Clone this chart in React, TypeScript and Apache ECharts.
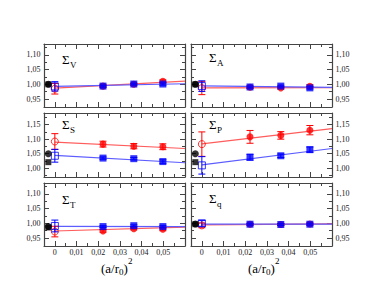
import React, { useEffect, useRef } from "react";
import * as echarts from "echarts";

// x positions
const X_LAT = [0.0222, 0.0364, 0.0498];
const X_EXT = 0;
const X_REF = -0.003;
const X_FIT = [0, 0.06];
const X_MAJOR = [0, 0.01, 0.02, 0.03, 0.04, 0.05];

// y ticks
const Y_LOW_RANGE = [0.923, 1.137];
const Y_LOW_MAJOR = [0.95, 1.0, 1.05, 1.1];
const Y_LOW_MINOR = [0.975, 1.025, 1.075, 1.125];
const Y_HIGH_RANGE = [0.97, 1.19];
const Y_HIGH_MAJOR = [1.0, 1.05, 1.1, 1.15];
const Y_HIGH_MINOR = [0.975, 1.025, 1.075, 1.125, 1.175];

// Sigma_V
const V_RED = [0.994, 1.0, 1.01];
const V_RED_ERR = [0.004, 0.003, 0.005];
const V_BLUE = [0.994, 1.001, 1.001];
const V_BLUE_ERR = [0.003, 0.003, 0.004];
const V_RED_EXT = [0.985, 0.018];
const V_BLUE_EXT = [0.993, 0.016];
const V_RED_FIT = [0.987, 1.011];
const V_BLUE_FIT = [0.993, 1.002];
const V_REF = [1.0, 1.0]; // [circle, square]

// Sigma_A
const A_RED = [0.99, 0.988, 0.993];
const A_RED_ERR = [0.004, 0.004, 0.005];
const A_BLUE = [0.991, 0.994, 0.988];
const A_BLUE_ERR = [0.003, 0.003, 0.004];
const A_RED_EXT = [0.987, 0.022];
const A_BLUE_EXT = [0.994, 0.018];
const A_RED_FIT = [0.988, 0.989];
const A_BLUE_FIT = [0.995, 0.99];
const A_REF = [1.0, 1.0];

// Sigma_S
const S_RED = [1.083, 1.076, 1.074];
const S_RED_ERR = [0.01, 0.009, 0.01];
const S_BLUE = [1.035, 1.033, 1.023];
const S_BLUE_ERR = [0.004, 0.004, 0.006];
const S_RED_EXT = [1.092, 0.027];
const S_BLUE_EXT = [1.043, 0.022];
const S_RED_FIT = [1.09, 1.068];
const S_BLUE_FIT = [1.044, 1.019];
const S_REF = [1.05, 1.021];

// Sigma_P
const P_RED = [1.108, 1.113, 1.131];
const P_RED_ERR = [0.022, 0.013, 0.016];
const P_BLUE = [1.038, 1.043, 1.064];
const P_BLUE_ERR = [0.01, 0.006, 0.009];
const P_RED_EXT = [1.083, 0.042];
const P_BLUE_EXT = [1.01, 0.03];
const P_RED_FIT = [1.084, 1.136];
const P_BLUE_FIT = [1.012, 1.068];
const P_REF = [1.05, 1.021];

// Sigma_T
const T_RED = [0.974, 0.982, 0.98];
const T_RED_ERR = [0.004, 0.004, 0.005];
const T_BLUE = [0.989, 0.992, 0.989];
const T_BLUE_ERR = [0.003, 0.003, 0.004];
const T_RED_EXT = [0.972, 0.018];
const T_BLUE_EXT = [0.991, 0.02];
const T_RED_FIT = [0.974, 0.987];
const T_BLUE_FIT = [0.99, 0.989];
const T_REF = [0.989, 0.986];

// Sigma_q
const Q_RED = [0.997, 0.996, 0.998];
const Q_RED_ERR = [0.003, 0.003, 0.004];
const Q_BLUE = [0.997, 0.996, 0.997];
const Q_BLUE_ERR = [0.003, 0.003, 0.003];
const Q_RED_EXT = [0.993, 0.008];
const Q_BLUE_EXT = [1.0, 0.01];
const Q_RED_FIT = [0.995, 0.998];
const Q_BLUE_FIT = [0.997, 0.997];
const Q_REF = [0.998, 0.997];

const LABELS = ["V", "A", "S", "P", "T", "q"];

const PANELS = [
  { sub: LABELS[0], red: V_RED, redErr: V_RED_ERR, blue: V_BLUE, blueErr: V_BLUE_ERR, redExt: V_RED_EXT, blueExt: V_BLUE_EXT, redFit: V_RED_FIT, blueFit: V_BLUE_FIT, ref: V_REF, high: false },
  { sub: LABELS[1], red: A_RED, redErr: A_RED_ERR, blue: A_BLUE, blueErr: A_BLUE_ERR, redExt: A_RED_EXT, blueExt: A_BLUE_EXT, redFit: A_RED_FIT, blueFit: A_BLUE_FIT, ref: A_REF, high: false },
  { sub: LABELS[2], red: S_RED, redErr: S_RED_ERR, blue: S_BLUE, blueErr: S_BLUE_ERR, redExt: S_RED_EXT, blueExt: S_BLUE_EXT, redFit: S_RED_FIT, blueFit: S_BLUE_FIT, ref: S_REF, high: true },
  { sub: LABELS[3], red: P_RED, redErr: P_RED_ERR, blue: P_BLUE, blueErr: P_BLUE_ERR, redExt: P_RED_EXT, blueExt: P_BLUE_EXT, redFit: P_RED_FIT, blueFit: P_BLUE_FIT, ref: P_REF, high: true },
  { sub: LABELS[4], red: T_RED, redErr: T_RED_ERR, blue: T_BLUE, blueErr: T_BLUE_ERR, redExt: T_RED_EXT, blueExt: T_BLUE_EXT, redFit: T_RED_FIT, blueFit: T_BLUE_FIT, ref: T_REF, high: false },
  { sub: LABELS[5], red: Q_RED, redErr: Q_RED_ERR, blue: Q_BLUE, blueErr: Q_BLUE_ERR, redExt: Q_RED_EXT, blueExt: Q_BLUE_EXT, redFit: Q_RED_FIT, blueFit: Q_BLUE_FIT, ref: Q_REF, high: false },
];

const GRIDS = [
  { left: 44, top: 44, width: 141, height: 63 },
  { left: 191, top: 44, width: 141, height: 63 },
  { left: 44, top: 113, width: 141, height: 64 },
  { left: 191, top: 113, width: 141, height: 64 },
  { left: 44, top: 183, width: 141, height: 63 },
  { left: 191, top: 183, width: 141, height: 63 },
];
const SIGMA_Y = [59, 57, 124, 124, 199.5, 198.5];

const FONT = '"Liberation Serif", "DejaVu Serif", serif';
const AXIS_COLOR = "#444";
const LABEL_COLOR = "#222";
const RED = "#ff0000";
const BLUE = "#0000ff";

const fmt = (v: number) => (Math.abs(v) < 1e-9 ? "0" : v.toFixed(2).replace(".", ","));
const fmtX = (v: number) => {
  const h = v * 100;
  if (Math.abs(h - Math.round(h)) > 1e-6) return "";
  if (v < -1e-9 || v > 0.0501) return "";
  return fmt(v);
};

function errSeries(g: number, color: string, data: number[][], z: number) {
  return {
    type: "custom",
    xAxisIndex: g * 4,
    yAxisIndex: g * 4,
    z,
    silent: true,
    encode: { x: 0, y: [1, 2] },
    data,
    renderItem: (params: any, api: any) => {
      const x = api.value(0);
      const lo = api.value(1);
      const hi = api.value(2);
      const a = api.coord([x, lo]);
      const b = api.coord([x, hi]);
      const w = 3.5;
      const st = { stroke: color, lineWidth: 1 };
      return {
        type: "group",
        children: [
          { type: "line", shape: { x1: a[0], y1: a[1], x2: b[0], y2: b[1] }, style: st },
          { type: "line", shape: { x1: a[0] - w, y1: a[1], x2: a[0] + w, y2: a[1] }, style: st },
          { type: "line", shape: { x1: b[0] - w, y1: b[1], x2: b[0] + w, y2: b[1] }, style: st },
        ],
      };
    },
  };
}

function buildOption() {
  const xAxis: any[] = [];
  const yAxis: any[] = [];
  const series: any[] = [];
  const graphic: any[] = [];
  const tickStyle = { color: AXIS_COLOR, width: 1 };
  const lineStyle = { color: AXIS_COLOR, width: 1.2 };

  PANELS.forEach((p, g) => {
    const bottomRow = g >= 4;
    const leftCol = g % 2 === 0;
    const yr = p.high ? Y_HIGH_RANGE : Y_LOW_RANGE;
    const yMaj = p.high ? Y_HIGH_MAJOR : Y_LOW_MAJOR;
    const yMin = p.high ? Y_HIGH_MINOR : Y_LOW_MINOR;
    const xBase = { gridIndex: g, type: "value", min: -0.005, max: 0.06, splitLine: { show: false } };
    const yBase = { gridIndex: g, type: "value", min: yr[0], max: yr[1], splitLine: { show: false } };
    (["bottom", "top"] as const).forEach((pos) => {
      // axis with line, every-0.005 short ticks, and labels at 0.01 steps
      xAxis.push({
        ...xBase,
        position: pos,
        interval: 0.005,
        axisLine: { show: true, onZero: false, lineStyle },
        axisTick: { show: true, inside: true, length: 3, interval: 0, lineStyle: tickStyle },
        axisLabel: {
          show: pos === "bottom" && bottomRow,
          interval: 0,
          hideOverlap: false,
          showMinLabel: true,
          showMaxLabel: true,
          formatter: fmtX,
          fontFamily: FONT,
          fontSize: 8,
          color: LABEL_COLOR,
          margin: 2,
        },
      });
      // long ticks at 0.01 steps
      xAxis.push({
        ...xBase,
        position: pos,
        axisLine: { show: false, onZero: false },
        axisTick: { show: true, inside: true, length: 5, customValues: X_MAJOR, lineStyle: tickStyle },
        axisLabel: { show: false },
      });
    });
    (["left", "right"] as const).forEach((pos) => {
      yAxis.push({
        ...yBase,
        position: pos,
        axisLine: { show: true, onZero: false, lineStyle },
        axisTick: { show: true, inside: true, length: 3, customValues: yMin, lineStyle: tickStyle },
        axisLabel: { show: false },
      });
      yAxis.push({
        ...yBase,
        position: pos,
        axisLine: { show: false, onZero: false },
        axisTick: { show: true, inside: true, length: 5, customValues: yMaj, lineStyle: tickStyle },
        axisLabel: {
          show: (pos === "left" && leftCol) || (pos === "right" && !leftCol),
          customValues: yMaj,
          interval: 0,
          hideOverlap: false,
          showMinLabel: true,
          showMaxLabel: true,
          formatter: fmt,
          fontFamily: FONT,
          fontSize: 8,
          color: LABEL_COLOR,
          margin: 3.5,
        },
      });
    });

    const xi = g * 4;
    const yi = g * 4;
    series.push({
      type: "line", xAxisIndex: xi, yAxisIndex: yi, z: 1, showSymbol: false, symbol: "none", silent: true,
      data: [[X_FIT[0], p.redFit[0]], [X_FIT[1], p.redFit[1]]],
      lineStyle: { color: "#ff5c5c", width: 1.2 },
    });
    series.push({
      type: "line", xAxisIndex: xi, yAxisIndex: yi, z: 1, showSymbol: false, symbol: "none", silent: true,
      data: [[X_FIT[0], p.blueFit[0]], [X_FIT[1], p.blueFit[1]]],
      lineStyle: { color: "#5c5cff", width: 1.2 },
    });
    const redErrData = [[X_EXT, p.redExt[0] - p.redExt[1], p.redExt[0] + p.redExt[1]]].concat(
      X_LAT.map((x, i) => [x, p.red[i] - p.redErr[i], p.red[i] + p.redErr[i]])
    );
    const blueErrData = [[X_EXT, p.blueExt[0] - p.blueExt[1], p.blueExt[0] + p.blueExt[1]]].concat(
      X_LAT.map((x, i) => [x, p.blue[i] - p.blueErr[i], p.blue[i] + p.blueErr[i]])
    );
    series.push(errSeries(g, RED, redErrData, 2));
    series.push({
      type: "scatter", xAxisIndex: xi, yAxisIndex: yi, z: 3, silent: true,
      symbol: "circle", symbolSize: 7,
      itemStyle: { color: RED },
      data: X_LAT.map((x, i) => [x, p.red[i]]),
    });
    series.push({
      type: "scatter", xAxisIndex: xi, yAxisIndex: yi, z: 3, silent: true,
      symbol: "circle", symbolSize: 7,
      itemStyle: { color: "rgba(255,255,255,0)", borderColor: RED, borderWidth: 1 },
      data: [[X_EXT, p.redExt[0]]],
    });
    series.push(errSeries(g, BLUE, blueErrData, 4));
    series.push({
      type: "scatter", xAxisIndex: xi, yAxisIndex: yi, z: 5, silent: true,
      symbol: "rect", symbolSize: 7,
      itemStyle: { color: BLUE },
      data: X_LAT.map((x, i) => [x, p.blue[i]]),
    });
    series.push({
      type: "scatter", xAxisIndex: xi, yAxisIndex: yi, z: 5, silent: true,
      symbol: "rect", symbolSize: 7,
      itemStyle: { color: "rgba(255,255,255,0)", borderColor: BLUE, borderWidth: 1 },
      data: [[X_EXT, p.blueExt[0]]],
    });
    series.push({
      type: "scatter", xAxisIndex: xi, yAxisIndex: yi, z: 6, silent: true,
      symbol: "rect", symbolSize: 6,
      itemStyle: { color: "#000" },
      data: [[X_REF, p.ref[1]]],
    });
    series.push({
      type: "scatter", xAxisIndex: xi, yAxisIndex: yi, z: 6, silent: true,
      symbol: "circle", symbolSize: 7,
      itemStyle: { color: "#000" },
      data: [[X_REF, p.ref[0]]],
    });

    const gx = GRIDS[g].left + 18;
    const sy = SIGMA_Y[g];
    graphic.push({
      type: "text", x: gx, y: sy, z: 10,
      style: { text: "Σ", fontFamily: FONT, fontSize: 13, fill: "#000", align: "left", verticalAlign: "middle" },
    });
    graphic.push({
      type: "text", x: gx + 8, y: sy + 5.5, z: 10,
      style: { text: p.sub, fontFamily: FONT, fontSize: 9, fill: "#000", align: "left", verticalAlign: "middle" },
    });
  });

  [101, 248].forEach((x0) => {
    graphic.push({ type: "text", x: x0, y: 268, style: { text: "(a/r", fontFamily: FONT, fontSize: 13, fill: "#000", align: "left", verticalAlign: "middle" } });
    graphic.push({ type: "text", x: x0 + 18, y: 272, style: { text: "0", fontFamily: FONT, fontSize: 9, fill: "#000", align: "left", verticalAlign: "middle" } });
    graphic.push({ type: "text", x: x0 + 22.5, y: 268, style: { text: ")", fontFamily: FONT, fontSize: 13, fill: "#000", align: "left", verticalAlign: "middle" } });
    graphic.push({ type: "text", x: x0 + 27, y: 261, style: { text: "2", fontFamily: FONT, fontSize: 9, fill: "#000", align: "left", verticalAlign: "middle" } });
  });

  return {
    animation: false,
    backgroundColor: "#fff",
    grid: GRIDS.map((g) => ({ ...g, containLabel: false })),
    xAxis,
    yAxis,
    series,
    graphic,
  };
}

export default function App() {
  const ref = useRef<HTMLDivElement>(null);
  useEffect(() => {
    if (!ref.current) return;
    const chart = echarts.init(ref.current, undefined, { renderer: "svg" });
    chart.setOption(buildOption() as any);
    return () => chart.dispose();
  }, []);
  return (
    <div
      ref={ref}
      style={{ position: "fixed", left: 0, top: 0, width: 385, height: 298, background: "#fff" }}
    />
  );
}
